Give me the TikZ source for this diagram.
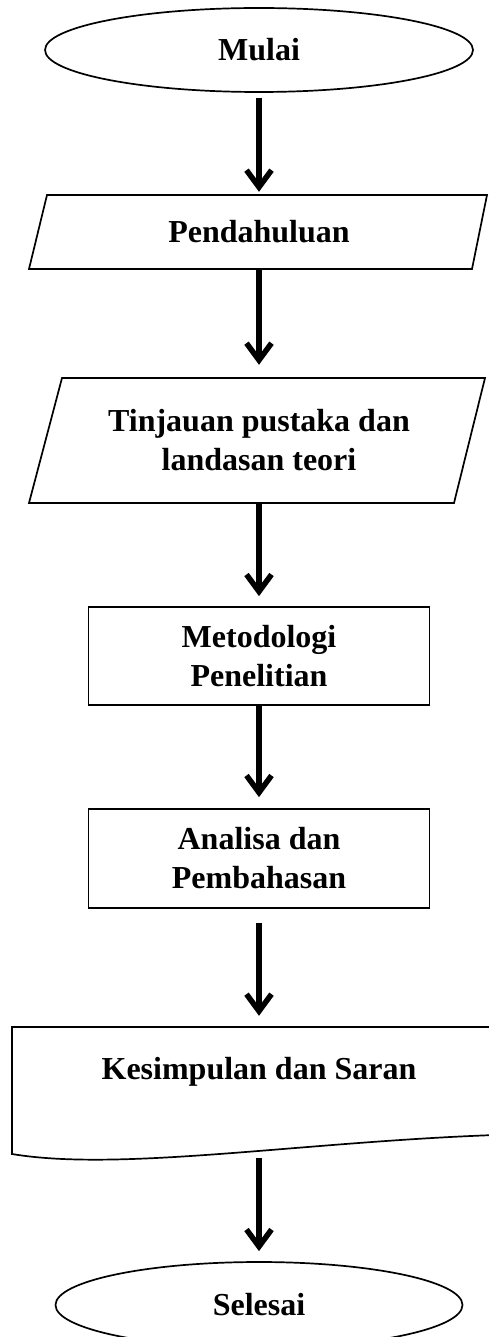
\documentclass[tikz,border=0pt]{standalone}
\usepackage{fontspec}
\setmainfont{Liberation Serif}
\usetikzlibrary{shapes.geometric,arrows.meta}
\begin{document}
\begin{tikzpicture}[x=1pt,y=-1pt,
  every node/.style={font=\fontsize{32}{39}\selectfont\bfseries, align=center, inner sep=0pt},
  outline/.style={draw=black, line width=1.7pt},
  term/.style={ellipse, outline},
  textbox/.style={rectangle},
  arr/.style={line width=5.5pt, -{Straight Barb[length=17pt,width=25pt]}}
]
\useasboundingbox (0,0) rectangle (488,1337);

% Start
\node[term, minimum width=428pt, minimum height=84pt] (start) at (259,50) {Mulai};

% Pendahuluan (parallelogram)
\draw[outline] (47,195) -- (487,195) -- (472,269) -- (29,269) -- cycle;
\node[textbox, minimum width=420pt, minimum height=74pt] (pend) at (259,232) {Pendahuluan};

% Tinjauan (parallelogram)
\draw[outline] (62,378) -- (485,378) -- (454,503) -- (29,503) -- cycle;
\node[textbox, minimum width=400pt, minimum height=125pt] (tinj) at (259,440.5) {Tinjauan pustaka dan\\landasan teori};

% Metodologi
\node[outline, minimum width=341pt, minimum height=98pt] (met) at (259,656) {Metodologi\\Penelitian};

% Analisa
\node[outline, minimum width=341pt, minimum height=99pt] (ana) at (259,858.5) {Analisa dan\\Pembahasan};

% Kesimpulan (document shape)
\draw[outline] (495,1027) -- (12,1027) -- (12,1154)
  .. controls (120,1172) and (300,1142) .. (495,1135);
\node[textbox, minimum width=400pt, minimum height=90pt] (doc) at (259,1072) {Kesimpulan dan Saran};
\coordinate (docb) at (259,1154);

% End
\node[term, minimum width=407pt, minimum height=86pt] (end) at (259,1305) {Selesai};

% Connectors
\draw[arr, shorten <=5pt, shorten >=3pt] (start.south) -- (pend.north);
\draw[arr, shorten >=13pt] (pend.south) -- (tinj.north);
\draw[arr, shorten >=10pt] (tinj.south) -- (met.north);
\draw[arr, shorten >=11pt] (met.south) -- (ana.north);
\draw[arr, shorten <=14pt, shorten >=11pt] (ana.south) -- (doc.north);
\draw[arr, shorten <=4pt, shorten >=10pt] (docb) -- (end.north);
\end{tikzpicture}
\end{document}
